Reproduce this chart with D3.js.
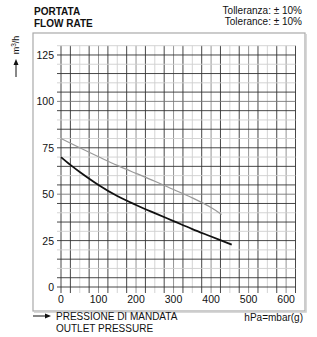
<!DOCTYPE html>
<html>
<head>
<meta charset="utf-8">
<script src="https://cdnjs.cloudflare.com/ajax/libs/d3/7.8.5/d3.min.js"></script>
<style>
  body { margin: 0; background: #fff; }
  svg text { font-family: "Liberation Sans", Arial, sans-serif; fill: #111; }
</style>
</head>
<body>
<div class="app"></div>
<script>
// flow rate curves (m3/h) against outlet pressure (hPa)
var pressureDark = [0, 25, 50, 100, 150, 200, 250, 300, 350, 400, 455];
var flowDark     = [70, 65.8, 62, 55, 49, 44.2, 39.8, 35.5, 31.2, 27.2, 22.8];
var pressureLight = [0, 50, 100, 150, 200, 250, 300, 350, 400, 428];
var flowLight     = [80, 75, 70.2, 65.5, 61.2, 57, 52.5, 48, 42.8, 39];

var xTicks = [0, 100, 200, 300, 400, 500, 600];
var yTicks = [0, 25, 50, 75, 100, 125];
var xGrid = d3.range(0, 626, 25);
var yGrid = d3.range(0, 131, 5);

var width = 317, height = 337;
var svg = d3.select(".app").append("svg").attr("width", width).attr("height", height);

var x = d3.scaleLinear().domain([0, 625]).range([61, 295.5]);
var y = d3.scaleLinear().domain([0, 130]).range([287, 45.7]);

// outer frame
svg.append("rect").attr("x", 33).attr("y", 33).attr("width", 272).attr("height", 278)
  .attr("fill", "none").attr("stroke", "#aaa").attr("stroke-width", 1.2);
svg.append("path").attr("d", "M306,34V312H34").attr("fill", "none")
  .attr("stroke", "#ccc").attr("stroke-width", 1.5);

// grid
var grid = svg.append("g");
grid.selectAll(".vx").data(xGrid).enter().append("line")
  .attr("x1", function (d) { return x(d); }).attr("x2", function (d) { return x(d); })
  .attr("y1", y(130)).attr("y2", y(0) + 6)
  .attr("stroke", function (d, i) { return (i % 2 === 1 || d === 0) ? "#333" : (d % 100 === 0 ? "#888" : "#cfcfcf"); })
  .attr("stroke-width", 0.9);
grid.selectAll(".hy").data(yGrid).enter().append("line")
  .attr("x1", x(0) - 4).attr("x2", x(625))
  .attr("y1", function (d) { return y(d); }).attr("y2", function (d) { return y(d); })
  .attr("stroke", function (d, i) { return (i % 2 === 1 || d === 0) ? "#333" : (d % 25 === 0 ? "#777" : "#cfcfcf"); })
  .attr("stroke-width", 0.9);

// tick labels
svg.selectAll(".xt").data(xTicks).enter().append("text")
  .attr("x", function (d) { return x(d); }).attr("y", 303)
  .attr("text-anchor", "middle").attr("font-size", 10.5).text(function (d) { return d; });
svg.selectAll(".yt").data(yTicks).enter().append("text")
  .attr("x", 54).attr("y", function (d) { return y(d) + 4; })
  .attr("text-anchor", "end").attr("font-size", 10.5).text(function (d) { return d; });

// curves
var line = d3.line().x(function (d) { return x(d[0]); }).y(function (d) { return y(d[1]); }).curve(d3.curveCatmullRom);
svg.append("path").datum(d3.zip(pressureLight, flowLight)).attr("d", line)
  .attr("fill", "none").attr("stroke", "#999").attr("stroke-width", 1.2);
svg.append("path").datum(d3.zip(pressureDark, flowDark)).attr("d", line)
  .attr("fill", "none").attr("stroke", "#111").attr("stroke-width", 1.8);

// titles
svg.append("text").attr("x", 34).attr("y", 15).attr("font-size", 10).attr("font-weight", "bold").text("PORTATA");
svg.append("text").attr("x", 34).attr("y", 27).attr("font-size", 10).attr("font-weight", "bold").text("FLOW RATE");
svg.append("text").attr("x", 302).attr("y", 14).attr("font-size", 10).attr("text-anchor", "end").text("Tolleranza: \u00b1 10%");
svg.append("text").attr("x", 302).attr("y", 25).attr("font-size", 10).attr("text-anchor", "end").text("Tolerance: \u00b1 10%");

// y unit with arrow
svg.append("text").attr("transform", "translate(19,45) rotate(-90)").attr("font-size", 9)
  .attr("text-anchor", "middle").html("m<tspan dy='-3' font-size='6.5'>3</tspan><tspan dy='3'>/h</tspan>");
svg.append("line").attr("x1", 16).attr("x2", 16).attr("y1", 77).attr("y2", 63).attr("stroke", "#111").attr("stroke-width", 1);
svg.append("path").attr("d", "M16,59L13.5,65H18.5Z").attr("fill", "#111");

// x label with arrow
svg.append("line").attr("x1", 33).attr("x2", 46).attr("y1", 316).attr("y2", 316).attr("stroke", "#111").attr("stroke-width", 1);
svg.append("path").attr("d", "M51,316L45,313.5V318.5Z").attr("fill", "#111");
svg.append("text").attr("x", 56).attr("y", 320).attr("font-size", 10).text("PRESSIONE DI MANDATA");
svg.append("text").attr("x", 56).attr("y", 332).attr("font-size", 10).text("OUTLET PRESSURE");
svg.append("text").attr("x", 303).attr("y", 321).attr("font-size", 10).attr("text-anchor", "end").text("hPa=mbar(g)");
</script>
</body>
</html>
